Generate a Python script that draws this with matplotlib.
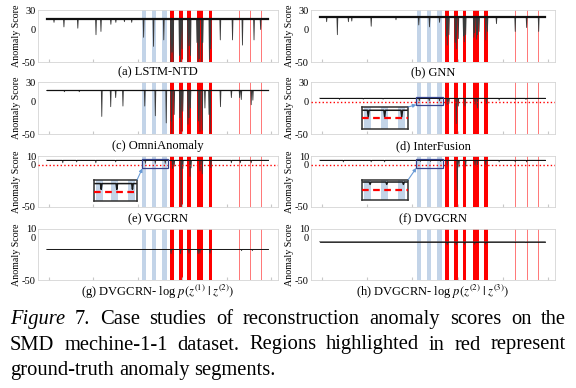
import numpy as np
import matplotlib
matplotlib.use("Agg")
import matplotlib.pyplot as plt
from matplotlib.patches import Rectangle, ConnectionPatch

plt.rcParams["font.family"] = "Liberation Serif"
plt.rcParams["mathtext.fontset"] = "stix"
plt.rcParams["axes.unicode_minus"] = False

# ------------------------
# Data
# ------------------------
n_steps = 28479

# suspicious (blue) regions and ground-truth anomaly segments (red)
blue_start = [12250, 13520, 14850]
blue_end = [12800, 14080, 15400]
red_start = [15849, 16963, 18071, 19367, 20786]
red_end = [16368, 17517, 18528, 20088, 21195]
red_points = [24680, 26115, 27555]

# (a) LSTM-NTD
lstm_base = 16
lstm_x = [955, 2227, 4009, 6343, 6979, 8252, 8889, 9992, 10925,
          12452, 13725, 15040,
          15950, 16100, 16250, 17050, 17204, 17400, 18150, 18300, 18477,
          19300, 19450, 19600, 19919, 20050, 20900, 21050,
          22295, 23865, 25138, 26623, 27471]
lstm_y = [11, 4, 2, -8, -3, 8, 11, 12, 11,
          -12, -26, -16,
          -50, -35, -50, -40, -50, -30, -50, -25, -40,
          -20, -50, -45, -50, -20, -46, -30,
          -16, -16, -24, -16, 0]

# (b) GNN
gnn_base = 20
gnn_x = [875, 2228, 3624, 4047, 6499, 9628,
         12503, 13856, 15124,
         16000, 16097, 16309, 17100, 17239, 17493, 18150, 18254, 18423,
         19450, 19565, 19800, 19903, 20114, 20960, 21171,
         22312, 24681, 26118, 27641]
gnn_y = [12, -8, 12, 13, 5, 15,
         7, 4, 11,
         -10, -24, -8, -20, -30, -14, -10, -19, -8,
         -12, -5, -15, -8, -3, -16, -3,
         9, -3, 3, -3]

# (c) OmniAnomaly
omni_base = 17
omni_x = [2291, 4200, 7085, 8231, 8867, 9801,
          12601, 13958, 15358,
          16000, 16080, 16377, 17100, 17268, 17480, 18150, 18286, 18456,
          19500, 19686, 19983, 20322, 20850, 21001,
          22317, 23717, 24777, 24989, 26262, 26474]
omni_y = [15, 15, -23, -8, 6, -7,
          -7, -22, -33,
          -30, -49, -20, -25, -46, -15, -35, -25, -10,
          -30, -46, -44, -10, -20, -48,
          -8, 6, 6, 3, -5, 2]

# (d) InterFusion
inter_base = 5
inter_x = [2500, 5500, 8000, 12575, 13825, 15125,
           16097, 16309, 17239, 17493, 18338, 19607, 19903, 21044,
           22651, 24681, 26034]
inter_y = [3, 3.5, 3.5, 1, 1, 1,
           -4.7, -3, -34, -7, -7, -4, -10, -3,
           2, 3, 3]

# (e) VGCRN
vgcrn_base = 5
vgcrn_x = [2079, 3861, 6322, 8867, 12686, 13958, 15231,
           16165, 16377, 17268, 17480, 18413, 18541, 19686, 19983, 21086,
           23717, 24862, 26262]
vgcrn_y = [2, 3, 2, 3, 1.4, 1.4, 1.4,
           -4.8, -2, -49, -4.8, -14, -4, -7.6, -11, -3.6,
           2, 2, 2]

# (f) DVGCRN
dvg_base = 5
dvg_x = [2990, 6499, 8190, 12715, 13983, 15251,
         16097, 17366, 17578, 18423, 19607, 19903, 20960,
         22651, 24681, 26118]
dvg_y = [3, 3, 3, 3.6, 3.6, 3.6,
         -2, -30, -3, -2, -1, -2, -2,
         3, 3, 3]

# (g) DVGCRN -log p(z1|z2)
g_base = -14
g_x = [15978, 17196, 18283, 19457, 19674, 20978, 25022, 26413]
g_y = [-19, -19, -18.5, -19, -18.5, -18.5, -15.5, -15.5]

# (h) DVGCRN -log p(z2|z3)
h_base = -5
h_x = [16097, 17239, 18296, 19565, 20960, 24681, 26034]
h_y = [-8.5, -8.5, -8, -8, -8, -6, -6]

threshold = 0

panel_labels = ["(a) LSTM-NTD", "(b) GNN", "(c) OmniAnomaly", "(d) InterFusion",
                "(e) VGCRN", "(f) DVGCRN",
                r"(g) DVGCRN- log $p(z^{(1)}\;|\;z^{(2)})$",
                r"(h) DVGCRN- log $p(z^{(2)}\;|\;z^{(3)})$"]

caption_lines = [
    "Figure 7. Case studies of reconstruction anomaly scores on the",
    "SMD mechine-1-1 dataset. Regions highlighted in red represent",
    "ground-truth anomaly segments.",
]

# ------------------------
# Figure setup
# ------------------------
W, H = 576, 388
fig = plt.figure(figsize=(W / 100, H / 100), dpi=100)

BLUE = "#c3d4e8"
RED = "#ff0000"


def px_axes(x0, y0, x1, y1):
    return fig.add_axes([x0 / W, 1 - y1 / H, (x1 - x0) / W, (y1 - y0) / H])


def make_series(base, sx, sy, half=60):
    order = np.argsort(sx)
    xs, ys = [0], [base]
    for i in order:
        xs += [sx[i] - half, sx[i], sx[i] + half]
        ys += [base, sy[i], base]
    xs.append(n_steps)
    ys.append(base)
    return np.array(xs), np.array(ys)


def draw_regions(ax, thin=True):
    for s, e in zip(blue_start, blue_end):
        ax.axvspan(s, e, color=BLUE, lw=0, zorder=0)
    for s, e in zip(red_start, red_end):
        ax.axvspan(s, e, color=RED, lw=0, zorder=0)
    if thin:
        for p in red_points:
            ax.axvline(p, color=RED, lw=0.5, alpha=0.75, zorder=0)


def draw_panel(ax, base, sx, sy, ylim, yticks, base_lw=0.9, spike_lw=0.6, thr=False):
    draw_regions(ax)
    x, y = make_series(base, sx, sy)
    ax.plot(x, y, color="#3a3a3a", lw=spike_lw, zorder=2)
    ax.plot([0, n_steps], [base, base], color="#111111", lw=base_lw, zorder=3)
    if thr:
        ax.axhline(threshold, color=RED, ls=":", lw=1.0, zorder=4)
    ax.set_xlim(-1100, 29700)
    ax.set_ylim(*ylim)
    ax.set_yticks(yticks)
    ax.set_yticklabels([str(t) for t in yticks], fontsize=7.5)
    ax.set_xticks(np.linspace(250, 28850, 6))
    ax.tick_params(axis="x", length=2, color="#c8c8c8", direction="in", labelbottom=False)
    ax.tick_params(axis="y", length=0, pad=1.5)
    for sp in ax.spines.values():
        sp.set_color("#d4d4d4")
        sp.set_linewidth(0.6)
    ax.set_ylabel("Anomaly Score", fontsize=7.2, labelpad=1)


def add_inset(ax, base, sx, sy, box_x, box_y, inset_px, inset_ylim):
    # box on the main axes
    ax.add_patch(Rectangle((box_x[0], box_y[0]), box_x[1] - box_x[0], box_y[1] - box_y[0],
                           fill=False, edgecolor="#34428c", lw=0.9, zorder=5))
    ins = px_axes(*inset_px)
    draw_regions(ins, thin=False)
    x, y = make_series(base, sx, sy)
    ins.plot(x, y, color="#1a1a1a", lw=1.1, zorder=2)
    ins.axhline(threshold, color=RED, ls="--", lw=1.6, dashes=(3, 2), zorder=3)
    ins.set_xlim(12100, 15600)
    ins.set_ylim(*inset_ylim)
    ins.set_xticks([])
    ins.set_yticks([])
    for sp in ins.spines.values():
        sp.set_color("#303030")
        sp.set_linewidth(1.1)
    con = ConnectionPatch(xyA=(1, 1), coordsA=ins.transAxes,
                          xyB=(box_x[0], box_y[0]), coordsB=ax.transData,
                          arrowstyle="-|>", mutation_scale=5, color="#6a9bd6", lw=0.8)
    fig.add_artist(con)


cols = [(38, 278), (311, 555)]
rows = [(10, 62), (82, 134), (156, 207), (229, 280)]
label_y = [72, 146, 219, 292]

panels = [
    (lstm_base, lstm_x, lstm_y, (-50, 30), [30, 0, -50], 1.6, False),
    (gnn_base, gnn_x, gnn_y, (-50, 30), [30, 0, -50], 1.6, False),
    (omni_base, omni_x, omni_y, (-50, 30), [30, 0, -50], 0.9, False),
    (inter_base, inter_x, inter_y, (-50, 30), [30, 0, -50], 0.7, True),
    (vgcrn_base, vgcrn_x, vgcrn_y, (-50, 10), [10, 0, -50], 0.7, True),
    (dvg_base, dvg_x, dvg_y, (-50, 10), [10, 0, -50], 0.7, True),
    (g_base, g_x, g_y, (-50, 10), [10, 0, -50], 0.6, False),
    (h_base, h_x, h_y, (-50, 10), [10, 0, -50], 0.6, False),
]

axes = []
for i, (base, sx, sy, ylim, yticks, blw, thr) in enumerate(panels):
    r, c = divmod(i, 2)
    ax = px_axes(cols[c][0], rows[r][0], cols[c][1], rows[r][1])
    draw_panel(ax, base, sx, sy, ylim, yticks, base_lw=blw, thr=thr)
    fig.text((cols[c][0] + cols[c][1]) / 2 / W, 1 - label_y[r] / H, panel_labels[i],
             ha="center", va="center", fontsize=9)
    axes.append(ax)

# zoomed insets on the blue regions
add_inset(axes[3], inter_base, inter_x, inter_y, (12200, 15550), (-5, 7.5),
          (362, 107, 408, 129), (-6.5, 7))
add_inset(axes[4], vgcrn_base, vgcrn_x, vgcrn_y, (12300, 15550), (-4.5, 6),
          (94, 180, 137, 201), (-5.9, 7.25))
add_inset(axes[5], dvg_base, dvg_x, dvg_y, (12200, 15550), (-4, 6),
          (362, 180, 408, 200), (-5.7, 6.2))

# ------------------------
# Caption (justified lines)
# ------------------------
renderer = fig.canvas.get_renderer()
cap_x0, cap_x1 = 10, 566
cap_base = [324, 349.5, 375]
cap_size = 14.8

for li, line in enumerate(caption_lines):
    words = line.split()
    texts = []
    for wi, w in enumerate(words):
        style = "italic" if (li == 0 and wi == 0) else "normal"
        texts.append(fig.text(0, 1 - cap_base[li] / H, w, fontsize=cap_size,
                              fontstyle=style, va="baseline", ha="left"))
    widths = [t.get_window_extent(renderer).width for t in texts]
    if li < len(caption_lines) - 1:
        gap = (cap_x1 - cap_x0 - sum(widths)) / (len(words) - 1)
    else:
        gap = cap_size * 0.25 * 100 / 72
    x = cap_x0
    for t, w in zip(texts, widths):
        t.set_x(x / W)
        x += w + gap

fig.savefig("out.png", dpi=100)
